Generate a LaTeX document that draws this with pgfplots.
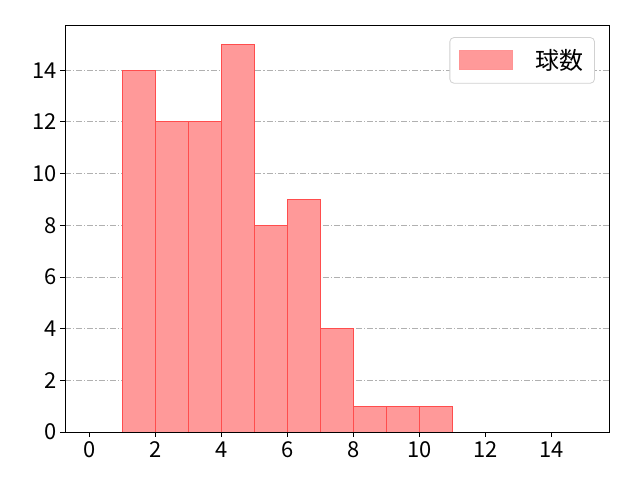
\documentclass[border=0pt]{standalone}
\usepackage{fontspec}
\setmainfont{Noto Sans CJK JP}
\usepackage{pgfplots}
\pgfplotsset{compat=1.18}
\definecolor{barfill}{HTML}{FF9999}
\definecolor{baredge}{HTML}{FF4D4D}
\definecolor{gridc}{HTML}{B0B0B0}
\begin{document}
\begin{tikzpicture}[x=1bp,y=1bp]
\useasboundingbox (0,0) rectangle (640,480);
\begin{axis}[
  at={(65bp,48bp)}, anchor=south west,
  scale only axis, width=544bp, height=407bp,
  xmin=-0.75, xmax=15.75, ymin=0, ymax=15.75,
  xtick={0,2,...,14}, ytick={0,2,...,14},
  xtick pos=bottom, ytick pos=left,
  tick align=outside, major tick length=5bp,
  tick style={black, line width=0.8bp},
  axis line style={line width=0.8bp},
  ymajorgrids, grid style={gridc, dash pattern=on 6bp off 2bp on 1.2bp off 2bp, line width=0.8bp},
  /pgf/number format/assume math mode=true,
  ticklabel style={font=\fontsize{22}{24}\selectfont},
  xticklabel style={yshift=-1bp},
  legend style={at={(0.974,0.97)}, anchor=north east,
     font=\fontsize{24}{26}\selectfont, inner xsep=9.5bp, inner ysep=10bp,
     draw=black!18, rounded corners=4bp, line width=0.8bp},
  legend cell align=left,
  legend image code/.code={\draw[fill=barfill, draw=baredge!60, line width=0.8bp, sharp corners] (3bp,-9bp) rectangle (56bp,10bp);},
]
\addplot[ybar interval, fill=barfill, draw=baredge, line width=0.8bp] coordinates {
(1,14) (2,12) (3,12) (4,15) (5,8) (6,9) (7,4) (8,1) (9,1) (10,1) (11,1)};
\addlegendentry{\hspace{20bp}球数}
\end{axis}
\end{tikzpicture}
\end{document}
